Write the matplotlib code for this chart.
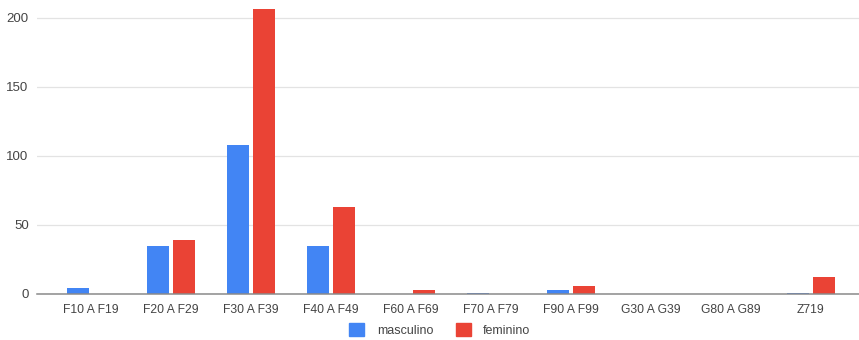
import matplotlib
matplotlib.use('Agg')
import matplotlib.pyplot as plt
import numpy as np
from matplotlib.patches import Patch

plt.rcParams['font.family'] = ['Liberation Sans', 'DejaVu Sans']

categorias = ['F10 A F19', 'F20 A F29', 'F30 A F39', 'F40 A F49', 'F60 A F69',
              'F70 A F79', 'F90 A F99', 'G30 A G39', 'G80 A G89', 'Z719']
masculino = [4, 35, 108, 35, 0, 1, 3, 0.3, 0.3, 1]
feminino = [0, 39, 206, 63, 3, 0, 6, 0.3, 0, 12]
y_ticks = [0, 50, 100, 150, 200]

azul = '#4285F4'
vermelho = '#EA4335'
texto = '#444444'


def plot_barras(ax):
    x = np.arange(len(categorias))
    w = 0.275
    off = 0.164
    ax.bar(x - off, masculino, w, color=azul, zorder=3)
    ax.bar(x + off, feminino, w, color=vermelho, zorder=3)

    ax.set_xlim(-0.67, 9.6)
    ax.set_ylim(0, 212)
    ax.set_xticks(x)
    ax.set_xticklabels(categorias, fontsize=8.7, color=texto)
    ax.set_yticks(y_ticks)
    ax.set_yticklabels([str(v) for v in y_ticks], fontsize=9.5, color=texto)
    ax.tick_params(axis='both', length=0)
    ax.tick_params(axis='x', pad=7)
    ax.tick_params(axis='y', pad=6)

    ax.grid(axis='y', color='#e3e3e3', linewidth=0.9, zorder=0)
    for lado in ['top', 'right', 'left']:
        ax.spines[lado].set_visible(False)
    ax.spines['bottom'].set_color('#8a8a8a')
    ax.spines['bottom'].set_linewidth(1.1)
    ax.spines['bottom'].set_zorder(4)


fig = plt.figure(figsize=(8.59, 3.4), dpi=100)
ax = fig.add_axes([0.0431, 0.1353, 0.9569, 0.862])
plot_barras(ax)

handles = [Patch(color=azul, label='masculino'), Patch(color=vermelho, label='feminino')]
fig.legend(handles=handles, loc='center', bbox_to_anchor=(0.512, 0.03), ncol=2,
           frameon=False, handlelength=1.2, handleheight=1.2, handletextpad=1.0,
           columnspacing=1.8, fontsize=9, labelcolor=texto, borderpad=0.2)

fig.savefig('out.png', dpi=100)
